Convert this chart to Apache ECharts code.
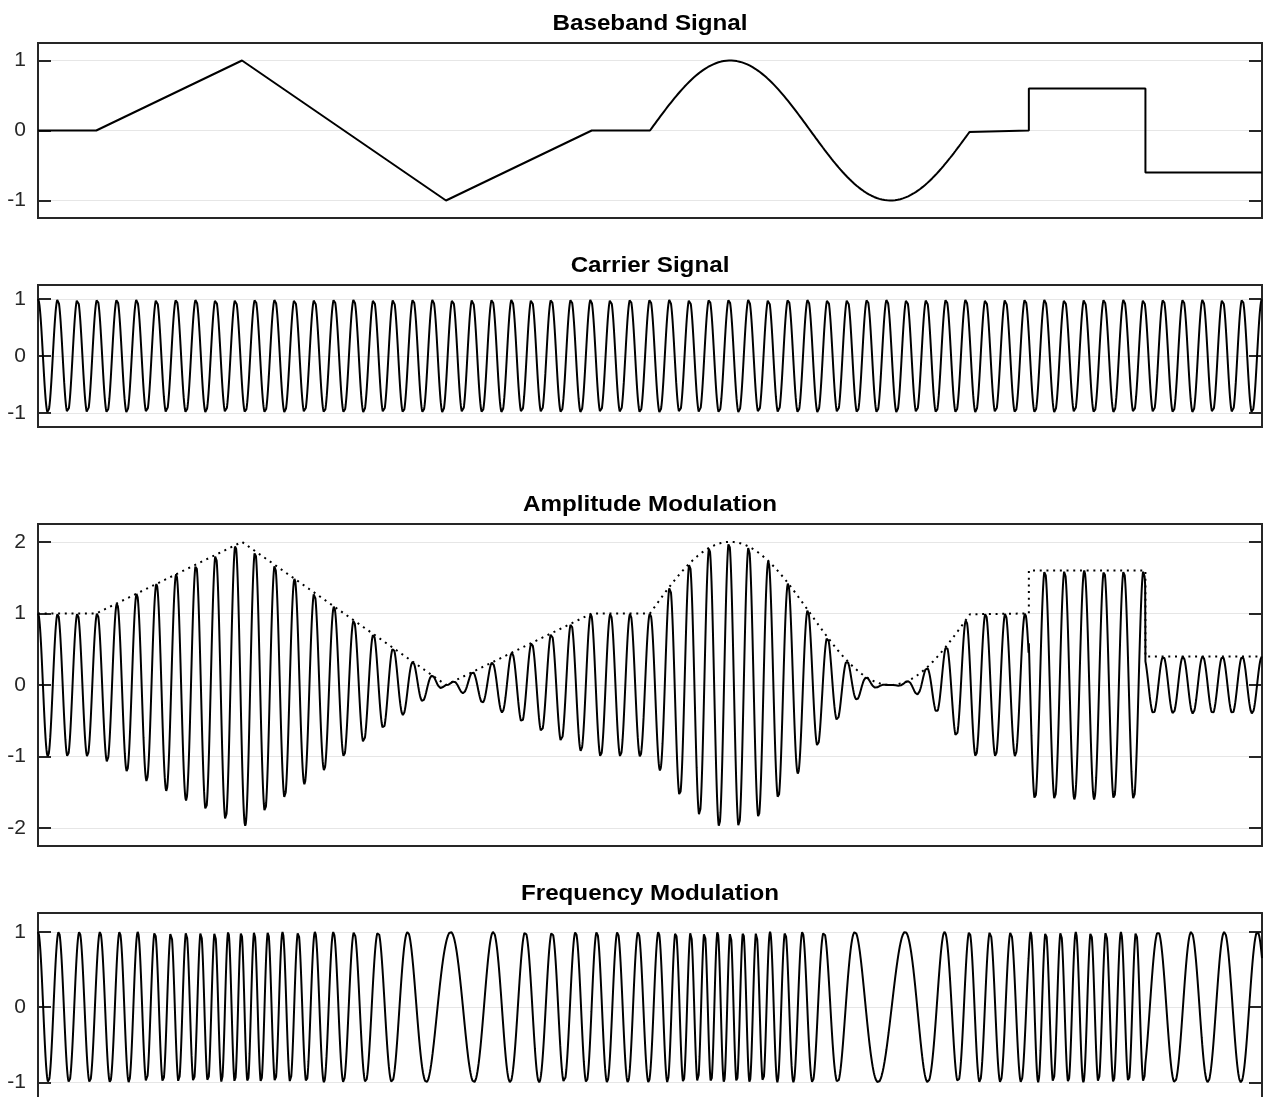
<!DOCTYPE html>
<html>
<head>
<meta charset="utf-8">
<script src="https://cdn.jsdelivr.net/npm/echarts@6/dist/echarts.min.js"></script>
<style>
  html, body { margin: 0; padding: 0; background: #fff; }
  #chart { width: 1265px; height: 1097px; }
</style>
</head>
<body>
<div id="chart"></div>
<script>
// ---- Signal description -------------------------------------------------
// Time runs from 0 to T_END (arbitrary units), sampled every STEP.
const T_END = 21;
const STEP = 0.005;

// Message m(t): linear knots, then one sine cycle, then step levels
const RAMP_T = [0, 1, 3.5, 7, 9.5, 10.5];
const RAMP_V = [0, 0, 1, -1, 0, 0];
const SINE_SPAN = [10.5, 16];
const TAIL_T = [16, 17, 17, 19, 19, 21];
const TAIL_V = [0, 0, 0.6, 0.6, -0.6, -0.6];

// Carrier and modulation parameters (cycles over the whole span)
const CARRIER_CYCLES = 62;
const FM_REST_CYCLES = 59.14;
const FM_DEVIATION = 1.76;   // extra cycles per time unit per unit of m

// Y tick values
const TICKS_UNIT = [-1, 0, 1];
const TICKS_AM = [-2, -1, 0, 1, 2];
const TITLES = ['Baseband Signal', 'Carrier Signal', 'Amplitude Modulation', 'Frequency Modulation'];

// ---- Sampling -----------------------------------------------------------
function messageAt(t) {
  const rampEnd = RAMP_T[RAMP_T.length - 1];
  if (t <= rampEnd) {
    for (let k = 1; k < RAMP_T.length; k++) {
      if (t <= RAMP_T[k]) {
        const f = (t - RAMP_T[k - 1]) / (RAMP_T[k] - RAMP_T[k - 1]);
        return RAMP_V[k - 1] + f * (RAMP_V[k] - RAMP_V[k - 1]);
      }
    }
  }
  if (t < SINE_SPAN[1]) {
    return Math.sin(2 * Math.PI * (t - SINE_SPAN[0]) / (SINE_SPAN[1] - SINE_SPAN[0]));
  }
  let v = TAIL_V[0];
  for (let k = 0; k < TAIL_T.length; k++) if (t >= TAIL_T[k]) v = TAIL_V[k];
  return v;
}

const N = Math.round(T_END / STEP);
const times = [];
for (let i = 0; i <= N; i++) times.push(i * STEP);
const msg = times.map(messageAt);

// Baseband trace: knots drawn directly, sine lobe sampled
const baseband = [];
RAMP_T.forEach((t, k) => baseband.push([t, RAMP_V[k]]));
const sineSteps = Math.round((SINE_SPAN[1] - SINE_SPAN[0]) / STEP);
for (let i = 1; i < sineSteps; i++) {
  const t = SINE_SPAN[0] + i * STEP;
  baseband.push([t, messageAt(t)]);
}
TAIL_T.forEach((t, k) => baseband.push([t, TAIL_V[k]]));

const fc = CARRIER_CYCLES / T_END;
const carrier = times.map(t => [t, Math.cos(2 * Math.PI * fc * t)]);
const am = times.map((t, i) => [t, (1 + msg[i]) * Math.cos(2 * Math.PI * fc * t)]);
const envelope = baseband.map(p => [p[0], 1 + p[1]]);

// FM: phase = rest frequency * t + deviation * integral of m
const f0 = FM_REST_CYCLES / T_END;
let integ = 0;
const fm = times.map((t, i) => {
  if (i > 0) integ += 0.5 * (msg[i] + msg[i - 1]) * STEP;
  return [t, Math.cos(2 * Math.PI * (f0 * t + FM_DEVIATION * integ))];
});

// ---- Layout -------------------------------------------------------------
const PLOT_LEFT = 38, PLOT_RIGHT = 1262;
// The last panel is cut by the page edge: its lower limit is raised so the
// panel ends at the bottom of the page, and it gets no bottom frame line.
const panels = [
  { top: 43,  bottom: 879, min: -1.25,  max: 1.25, ticks: TICKS_UNIT, open: false },
  { top: 285, bottom: 670, min: -1.25,  max: 1.25, ticks: TICKS_UNIT, open: false },
  { top: 524, bottom: 251, min: -2.25,  max: 2.25, ticks: TICKS_AM,   open: false },
  { top: 913, bottom: 0,   min: -1.195, max: 1.25, ticks: TICKS_UNIT, open: true }
];

const FONT = '"Liberation Sans", Arial, Helvetica, sans-serif';
const AXIS_COLOR = '#262626';
const frameLine = { show: true, onZero: false, lineStyle: { color: AXIS_COLOR, width: 2 } };
const noLine = { show: false, onZero: false };

const grid = [], xAxis = [], yAxis = [], graphic = [];
panels.forEach((p, i) => {
  grid.push({
    left: PLOT_LEFT, right: 1265 - PLOT_RIGHT, top: p.top, bottom: p.bottom,
    show: !p.open, borderColor: AXIS_COLOR, borderWidth: 2, backgroundColor: 'transparent',
    containLabel: false
  });
  xAxis.push({
    gridIndex: i, type: 'value', min: 0, max: T_END, position: 'top',
    axisLine: p.open ? frameLine : noLine, axisTick: { show: false },
    axisLabel: { show: false }, splitLine: { show: false }
  });
  // left axis: labels, inward ticks and horizontal grid lines
  yAxis.push({
    gridIndex: i, type: 'value', min: p.min, max: p.max, position: 'left',
    axisLine: p.open ? frameLine : noLine,
    axisTick: { show: true, inside: true, length: 13, customValues: p.ticks,
                lineStyle: { color: AXIS_COLOR, width: 2 } },
    axisLabel: { show: true, customValues: p.ticks, margin: 12, color: AXIS_COLOR,
                 fontSize: 21, fontFamily: FONT },
    splitLine: { show: true, lineStyle: { color: '#e6e6e6', width: 1 } }
  });
  // right axis: inward ticks only
  yAxis.push({
    gridIndex: i, type: 'value', min: p.min, max: p.max, position: 'right',
    axisLine: p.open ? frameLine : noLine,
    axisTick: { show: true, inside: true, length: 13, customValues: p.ticks,
                lineStyle: { color: AXIS_COLOR, width: 2 } },
    axisLabel: { show: false }, splitLine: { show: false }
  });
  graphic.push({
    type: 'text', x: (PLOT_LEFT + PLOT_RIGHT) / 2, y: p.top - 19, silent: true,
    scaleX: 1.1,
    style: { text: TITLES[i], fill: '#000', align: 'center', verticalAlign: 'middle',
             font: 'bold 22px ' + FONT }
  });
});

function trace(data, panel, extra) {
  return Object.assign({
    type: 'line', data: data, xAxisIndex: panel, yAxisIndex: panel * 2,
    showSymbol: false, symbol: 'none', silent: true, animation: false,
    lineStyle: { color: '#000', width: 2 }, z: 3
  }, extra || {});
}

const chart = echarts.init(document.getElementById('chart'), null, { renderer: 'canvas' });
chart.setOption({
  animation: false,
  backgroundColor: '#fff',
  grid, xAxis, yAxis, graphic,
  series: [
    trace(baseband, 0),
    trace(carrier, 1),
    trace(am, 2),
    trace(envelope, 2, { lineStyle: { color: '#000', width: 2, type: [2, 4.7] }, z: 4 }),
    trace(fm, 3)
  ]
});
</script>
</body>
</html>
